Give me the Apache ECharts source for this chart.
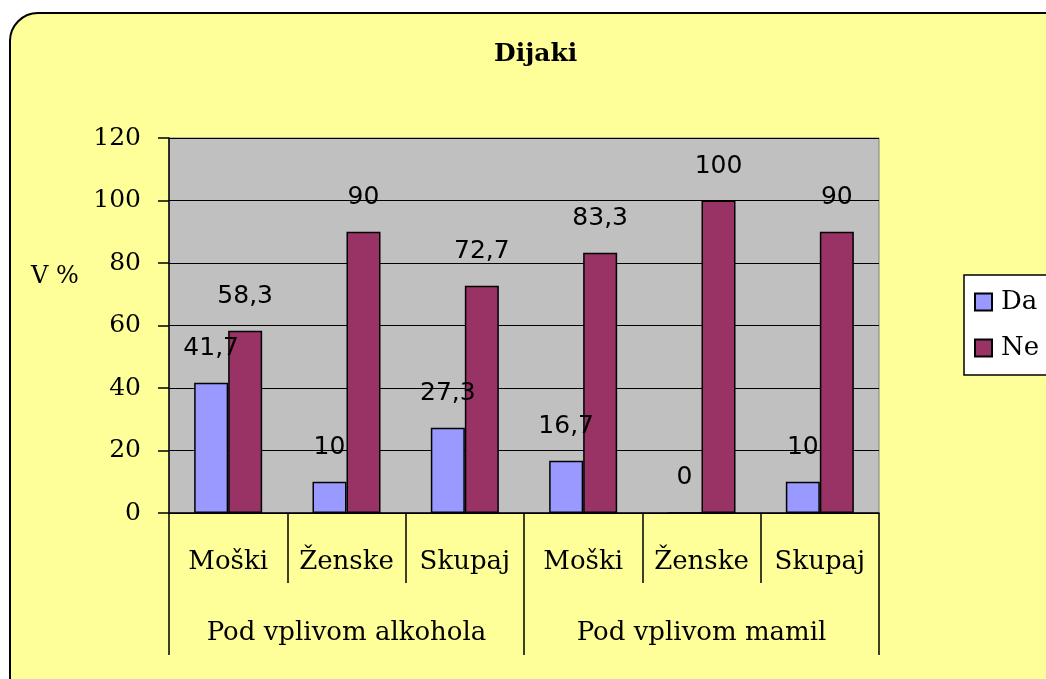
<!DOCTYPE html>
<html>
<head>
<meta charset="utf-8">
<script src="https://cdn.jsdelivr.net/npm/echarts@6/dist/echarts.min.js"></script>
<style>
  html, body { margin: 0; padding: 0; background: #fff; }
  #main { width: 1046px; height: 679px; }
</style>
</head>
<body>
<div id="main"></div>
<script>
const subCategories = ['Moški', 'Ženske', 'Skupaj', 'Moški', 'Ženske', 'Skupaj']
const groups = ['Pod vplivom alkohola', 'Pod vplivom mamil']
const daValues = [41.7, 10, 27.3, 16.7, 0, 10]
const neValues = [58.3, 90, 72.7, 83.3, 100, 90]

const font = 'DejaVu Serif'
const labelFont = 'DejaVu Sans'
const fmt = (p) => String(p.value).replace('.', ',')

const chart = echarts.init(document.getElementById('main'))

const barLabel = {
  show: true,
  position: 'top',
  distance: 22,
  formatter: fmt,
  fontFamily: labelFont,
  fontSize: 25,
  color: '#000'
}

const option = {
  backgroundColor: '#fff',
  textStyle: { fontFamily: font, color: '#000' },
  graphic: [{
    type: 'rect',
    z: -10,
    shape: { x: 10, y: 13, width: 1100, height: 720, r: 28 },
    style: { fill: '#FFFF99', stroke: '#000', lineWidth: 2 }
  }],
  title: [{
    text: 'Dijaki',
    left: 489,
    top: 37,
    textStyle: { fontFamily: font, fontSize: 25, fontWeight: 'bold', color: '#000' }
  }, {
    text: 'V %',
    left: 26,
    top: 260,
    textStyle: { fontFamily: font, fontSize: 24, fontWeight: 'normal', color: '#000' }
  }],
  legend: {
    orient: 'vertical',
    left: 964,
    top: 275,
    data: ['Da', 'Ne'],
    icon: 'rect',
    itemWidth: 17,
    itemHeight: 17,
    itemGap: 20,
    padding: [14, 40, 14, 10],
    backgroundColor: '#fff',
    borderColor: '#000',
    borderWidth: 1.5,
    textStyle: { fontFamily: font, fontSize: 26, color: '#000', padding: [0, 0, 0, 4] }
  },
  grid: {
    left: 169,
    right: 167,
    top: 138,
    bottom: 166,
    show: true,
    backgroundColor: '#C0C0C0',
    borderColor: '#808080',
    borderWidth: 1
  },
  xAxis: [{
    type: 'category',
    data: subCategories,
    axisLine: { show: true, lineStyle: { color: '#000', width: 1.5 } },
    axisTick: { show: true, interval: 0, length: 70, lineStyle: { color: '#000', width: 1.5 } },
    axisLabel: { interval: 0, margin: 36, fontFamily: font, fontSize: 26, color: '#000' }
  }, {
    type: 'category',
    data: groups,
    position: 'bottom',
    axisLine: { show: false },
    axisTick: { show: true, interval: 0, length: 142, lineStyle: { color: '#000', width: 1.5 } },
    axisLabel: { interval: 0, margin: 107, fontFamily: font, fontSize: 26, color: '#000' }
  }],
  yAxis: {
    type: 'value',
    min: 0,
    max: 120,
    interval: 20,
    axisLine: { show: true, lineStyle: { color: '#000', width: 1.5 } },
    axisTick: { show: true, length: 11, lineStyle: { color: '#000', width: 1.5 } },
    axisLabel: { margin: 28, fontFamily: font, fontSize: 25, color: '#000' },
    splitLine: { show: true, lineStyle: { color: '#000', width: 1 } }
  },
  series: [{
    name: 'Da',
    type: 'bar',
    data: daValues,
    barWidth: 34,
    barGap: 0,
    itemStyle: { color: '#9999FF', borderColor: '#000', borderWidth: 1.5 },
    label: barLabel
  }, {
    name: 'Ne',
    type: 'bar',
    data: neValues,
    barWidth: 34,
    barGap: 0,
    itemStyle: { color: '#993366', borderColor: '#000', borderWidth: 1.5 },
    label: barLabel
  }]
}

chart.setOption(option)
</script>
</body>
</html>
